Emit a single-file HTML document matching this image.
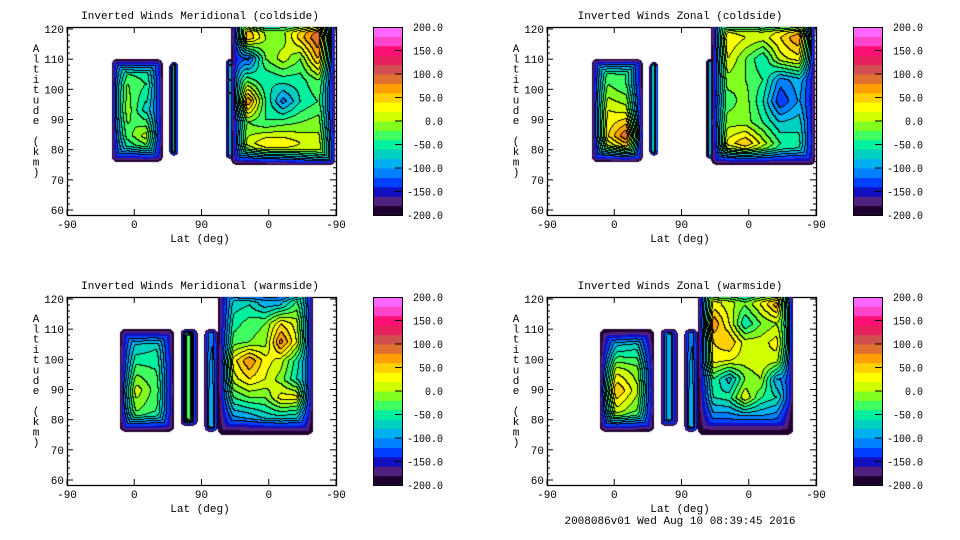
<!DOCTYPE html>
<html><head><meta charset="utf-8"><style>
body{margin:0;background:#fff;width:960px;height:540px;overflow:hidden;position:relative;font-family:"Liberation Mono",monospace}
canvas{position:absolute}
svg{position:absolute;left:0;top:0}
text{font-family:"Liberation Mono",monospace;font-size:11px;fill:#000}
</style></head><body>
<svg id="s" width="960" height="540"></svg>
<script>
// ---- data ----
const colorBands=["#200030","#502080","#1010c0","#0040ff","#0080ff","#00b0f0","#00d0c0","#00f0a0","#40ff60","#80ff20","#d0ff00","#ffff00","#ffd000","#ffa000","#e07030","#d05050","#e82060","#ff1077","#ff44cc","#ff66ff"];
const cbTickValues=[200,150,100,50,0,-50,-100,-150,-200];
const xTickLabels=["-90","0","90","0","-90"];
const yTickValues=[120,110,100,90,80,70,60];
const panelTitles=["Inverted Winds Meridional (coldside)","Inverted Winds Zonal (coldside)","Inverted Winds Meridional (warmside)","Inverted Winds Zonal (warmside)"];
// regions: [uStart,uEnd,altTop,altBottom] in axis units (0..360 along track)
const regionsCold=[[60,128,110,76],[137,149,109,78],[213,223,110,77],[220,359,124,75]];
const regionsWarm=[[71,143,110,76],[152,175,110,78],[184,202,110,76],[202,329,124,75]];
const p1A=[[-60,-70,-60,-80],[10,-20,-40,-30],[20,-10,-70,-30],[-20,-30,10,-20],[-80,-90,-80,-90]];
const p1B=[[-80],[-80]];
const p1C=[[-100],[-100]];
const p1D=[[-60,40,-20,10,30,60,-30],[-40,60,0,-10,50,100,40],[-60,-130,-20,10,-20,60,20],[20,-30,-60,-50,-50,-20,-20],[10,80,-40,-110,-60,-40,-20],[-40,-20,-40,-30,-20,-10,-20],[-50,10,40,40,20,10,20],[-90,-80,-60,-50,-20,20,10]];
const p2A=[[-70,-50,-40,-60],[-30,-20,-40,-50],[-20,20,10,-10],[-30,40,100,60],[-90,-60,-40,-70]];
const p2B=[[-70],[-70]];
const p2C=[[-90],[-90]];
const p2D=[[-40,-40,-20,-20,-20,-30,-60],[-40,40,20,10,40,80,60],[-60,20,-20,-60,10,30,10],[-50,-10,-20,-40,-110,-90,-60],[-60,-30,-10,-60,-140,-100,-70],[-40,-10,-10,-40,-80,-70,-60],[-70,30,60,10,-40,-50,-60],[-110,-90,-80,-80,-90,-100,-100]];
const p3A=[[-100,-100,-100,-110],[-60,-70,-60,-80],[-40,-30,-40,-70],[10,10,-30,-60],[-20,-20,-40,-70],[-110,-100,-100,-110]];
const p3B=[[-120,-20,-120],[-120,-20,-120]];
const p3C=[[-110,-100],[-110,-60]];
const p3D=[[-110,-80,-110,-100,-110,-60,-30],[-100,-70,-60,-90,-80,-30,0],[-90,-50,-30,-20,40,10,10],[-80,-30,-20,-10,90,20,10],[-70,30,80,30,10,-50,0],[-70,10,40,20,-10,-60,0],[-80,-40,-20,-20,30,30,-10],[-110,-100,-90,-70,-60,-70,-80],[-160,-150,-150,-150,-150,-150,-150]];
const p4A=[[-140,-130,-120,-140],[-90,-70,-60,-90],[-20,10,-10,-40],[30,60,10,-30],[-10,10,-20,-50],[-110,-100,-110,-120]];
const p4B=[[-120,-80,-120],[-120,-80,-120]];
const p4C=[[-110,-100],[-110,-60]];
const p4D=[[-60,20,20,-10,30,40,-10],[-50,30,10,-20,20,70,30],[-40,80,20,-60,-20,0,90],[-60,40,60,10,10,30,80],[-40,30,20,10,20,10,30],[-80,-40,-90,-20,0,-100,-20],[-90,-60,-50,20,-40,-60,-30],[-120,-110,-110,-100,-100,-110,-120],[-160,-160,-160,-160,-160,-160,-160]];

const panels=[
 {x:67,y:27,regions:regionsCold,grids:[p1A,p1B,p1C,p1D]},
 {x:547,y:27,regions:regionsCold,grids:[p2A,p2B,p2C,p2D]},
 {x:67,y:297,regions:regionsWarm,grids:[p3A,p3B,p3C,p3D]},
 {x:547,y:297,regions:regionsWarm,grids:[p4A,p4B,p4C,p4D]}];

const W=269,H=188,NS="http://www.w3.org/2000/svg";
const svg=document.getElementById('s');
function el(tag,attrs,txt){const e=document.createElementNS(NS,tag);for(const k in attrs)e.setAttribute(k,attrs[k]);if(txt!==undefined)e.textContent=txt;svg.appendChild(e);return e;}
const xs=u=>u*W/360;
const ys=a=>2+(120-a)*181/60;
function sample(g,fx,fy){const r=g.length,c=g[0].length;
 const gx=Math.max(0,Math.min(c-1,fx*(c-1))),gy=Math.max(0,Math.min(r-1,fy*(r-1)));
 const x0=Math.floor(gx),y0=Math.floor(gy),x1=Math.min(c-1,x0+1),y1=Math.min(r-1,y0+1),tx=gx-x0,ty=gy-y0;
 return (g[y0][x0]*(1-tx)+g[y0][x1]*tx)*(1-ty)+(g[y1][x0]*(1-tx)+g[y1][x1]*tx)*ty;}
function bandOf(v){return Math.max(0,Math.min(19,Math.floor((v+200)/20)));}
function hex(c){return [parseInt(c.slice(1,3),16),parseInt(c.slice(3,5),16),parseInt(c.slice(5,7),16)];}
const rgb=colorBands.map(hex);

panels.forEach((p,pi)=>{
 const cv=document.createElement('canvas');cv.width=W;cv.height=H;cv.style.left=p.x+'px';cv.style.top=p.y+'px';
 
 
 document.body.appendChild(cv);
 const ctx=cv.getContext('2d');const img=ctx.createImageData(W,H);
 const band=new Int16Array(W*H).fill(-1);
 p.regions.forEach((r,ri)=>{
  const g=p.grids[ri];const x0=xs(r[0]),x1=xs(r[1]),y0=ys(r[2]),y1=ys(r[3]);
  const rad=Math.min(5,(x1-x0)/2),F=Math.min(16,(x1-x0)/2.6);
  for(let py=Math.max(0,Math.floor(y0));py<Math.min(H,Math.ceil(y1));py++)
   for(let px=Math.max(0,Math.floor(x0));px<Math.min(W,Math.ceil(x1));px++){
    const cx=px+0.5,cy=py+0.5;
    const dx=Math.min(cx-x0,x1-cx),dy=Math.min(cy-y0,y1-cy);
    let d;if(dx<rad&&dy<rad){d=rad-Math.hypot(rad-dx,rad-dy);}else d=Math.min(dx,dy);
    if(d<0)continue;
    const v=sample(g,(cx-x0)/(x1-x0),(cy-y0)/(y1-y0));
    const t=Math.min(1,d/F);const val=-215+(v+215)*Math.pow(t,0.6);
    band[py*W+px]=bandOf(val);
   }
 });
 for(let py=0;py<H;py++)for(let px=0;px<W;px++){
  const i=py*W+px,b=band[i];if(b<0)continue;
  let line=false;
  if(px+1<W&&band[i+1]>=0&&band[i+1]!==b&&Math.min(b,band[i+1])>=3)line=true;
  if(py+1<H&&band[i+W]>=0&&band[i+W]!==b&&Math.min(b,band[i+W])>=3)line=true;
  const c=line?[0,0,0]:rgb[b];
  img.data[i*4]=c[0];img.data[i*4+1]=c[1];img.data[i*4+2]=c[2];img.data[i*4+3]=255;
 }
 ctx.putImageData(img,0,0);

 const X=p.x,Y=p.y;
 el('text',{x:X+133,y:Y-8,'text-anchor':'middle',},panelTitles[pi]);
 el('rect',{x:X+0.5,y:Y+0.5,width:W,height:H,fill:'none',stroke:'#000','stroke-width':1.3,});
 for(let a=60;a<=120;a+=2){const yy=Y+ys(a),L=a%10===0?6:3;
  el('line',{x1:X,x2:X+L,y1:yy,y2:yy,stroke:'#000',});
  el('line',{x1:X+W,x2:X+W-L,y1:yy,y2:yy,stroke:'#000',});}
 yTickValues.forEach(a=>el('text',{x:X-3,y:Y+ys(a)+4,'text-anchor':'end',},a));
 xTickLabels.forEach((l,k)=>{const xx=X+xs(k*90);
  el('line',{x1:xx,x2:xx,y1:Y+H,y2:Y+H-6,stroke:'#000',});
  el('line',{x1:xx,x2:xx,y1:Y,y2:Y+6,stroke:'#000',});
  el('text',{x:xx,y:Y+H+13,'text-anchor':'middle',},l);});
 el('text',{x:X+133,y:Y+H+27,'text-anchor':'middle',},'Lat (deg)');
 const yl='Altitude (km)';
 for(let k=0;k<yl.length;k++)el('text',{x:X-31,y:Y+25+k*10.3,'text-anchor':'middle',},yl[k]);
 const cx=X+306,cw=29;
 colorBands.forEach((c,k)=>{el('rect',{x:cx,y:Y+H-(k+1)*H/20,width:cw,height:H/20+0.5,fill:c,});});
 el('rect',{x:cx+0.5,y:Y+0.5,width:cw,height:H,fill:'none',stroke:'#000',});
 cbTickValues.forEach(v=>{const yy=Y+(200-v)/400*H;
  if(v!==200&&v!==-200)el('line',{x1:cx+cw-7,x2:cx+cw,y1:yy,y2:yy,stroke:'#000',});
  const s=v.toFixed(1);
  el('text',{x:X+376,y:yy+4,'text-anchor':'end',textLength:s.length*6,lengthAdjust:'spacingAndGlyphs',},s);});
});
el('text',{x:680,y:524,'text-anchor':'middle',},'2008086v01 Wed Aug 10 08:39:45 2016');
</script>
</body></html>
